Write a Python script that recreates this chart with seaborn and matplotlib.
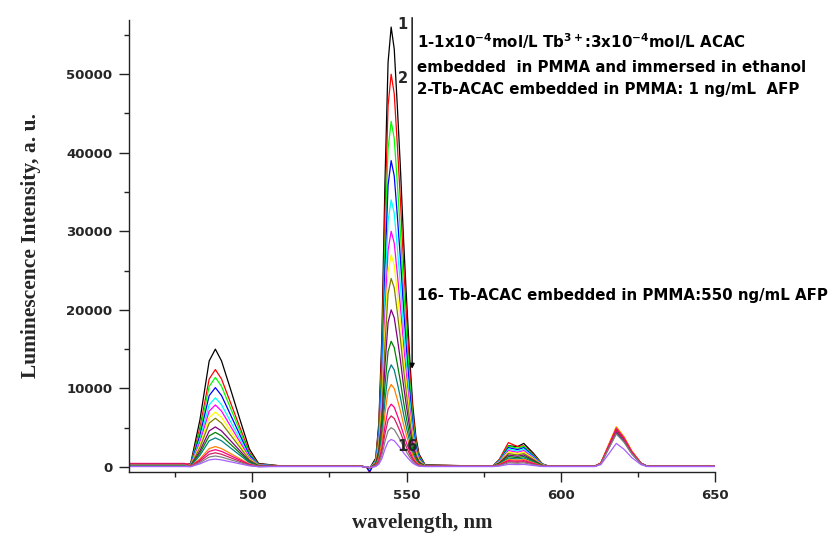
import matplotlib
matplotlib.use("Agg")
import matplotlib.pyplot as plt
import seaborn as sns
import pandas as pd
from matplotlib.ticker import MultipleLocator

# ---------------- data ----------------
wavelength = [460, 478, 480, 483, 486, 488, 490, 493, 496, 499, 502, 510, 535,
              537, 538, 540, 541, 542, 543, 544, 545, 546, 547, 548, 549, 550, 551,
              552, 553, 554, 556, 575,
              578, 580, 583, 586, 588, 591, 594, 596, 609,
              611, 613, 615.5, 618, 620.5, 623, 626, 628, 640, 650]

c01 = [200, 200, 450, 6000, 13500, 15000, 13500, 9800, 6000, 2300, 450, 100, 100,
       0, -200, 1120, 5600, 16800, 36400, 51520, 56000, 53200, 45920, 38080, 29120, 21280, 14000,
       7840, 3920, 1680, 280, 100,
       150, 900, 2700, 2600, 3000, 1800, 400, 120, 100,
       100, 440, 2420, 4400, 3300, 1760, 440, 100, 100, 150]
c02 = [400, 400, 370, 5000, 11200, 12400, 11200, 8100, 5000, 1900, 370, 120, 100,
       0, -700, 1000, 5000, 15000, 32500, 46000, 50000, 47500, 41000, 34000, 26000, 19000, 12500,
       7000, 3500, 1500, 250, 100,
       160, 930, 3100, 2600, 2700, 1650, 370, 110, 100,
       100, 500, 2750, 5000, 3750, 2000, 500, 100, 100, 120]
c03 = [250, 250, 340, 4560, 10260, 11400, 10260, 7410, 4560, 1710, 340, 100, 100,
       0, -500, 880, 4400, 13200, 28600, 40480, 44000, 41800, 36080, 29920, 22880, 16720, 11000,
       6160, 3080, 1320, 220, 100,
       140, 840, 2660, 2380, 2660, 1540, 340, 100, 100,
       100, 480, 2640, 4800, 3600, 1920, 480, 100, 100, 100]
c04 = [100, 100, 300, 4040, 9090, 10100, 9090, 6570, 4040, 1520, 300, 100, 100,
       0, -600, 780, 3900, 11700, 25350, 35880, 39000, 37050, 31980, 26520, 20280, 14820, 9750,
       5460, 2730, 1170, 200, 100,
       130, 780, 2470, 2210, 2470, 1430, 310, 100, 100,
       100, 460, 2530, 4600, 3450, 1840, 460, 100, 100, 120]
c05 = [300, 300, 260, 3520, 7920, 8800, 7920, 5720, 3520, 1320, 260, 100, 100,
       0, -100, 680, 3400, 10200, 22100, 31280, 34000, 32300, 27880, 23120, 17680, 12920, 8500,
       4760, 2380, 1020, 170, 100,
       120, 720, 2280, 2040, 2280, 1320, 290, 100, 100,
       100, 470, 2590, 4700, 3530, 1880, 470, 100, 100, 100]
c06 = [350, 350, 240, 3160, 7110, 7900, 7110, 5140, 3160, 1190, 240, 100, 100,
       0, -100, 600, 3000, 9000, 19500, 27600, 30000, 28500, 24600, 20400, 15600, 11400, 7500,
       4200, 2100, 900, 150, 100,
       110, 660, 2090, 1870, 2090, 1210, 260, 100, 100,
       100, 490, 2700, 4900, 3680, 1960, 490, 100, 100, 100]
c07 = [200, 200, 210, 2800, 6300, 7000, 6300, 4550, 2800, 1050, 210, 100, 100,
       0, -100, 540, 2700, 8100, 17550, 24840, 27000, 25650, 22140, 18360, 14040, 10260, 6750,
       3780, 1890, 810, 135, 100,
       100, 600, 1900, 1700, 1900, 1100, 240, 100, 100,
       100, 510, 2810, 5100, 3830, 2040, 510, 100, 100, 100]
c08 = [250, 250, 190, 2480, 5580, 6200, 5580, 4030, 2480, 930, 190, 100, 100,
       0, -100, 480, 2400, 7200, 15600, 22080, 24000, 22800, 19680, 16320, 12480, 9120, 6000,
       3360, 1680, 720, 120, 100,
       100, 540, 1710, 1530, 1710, 990, 220, 100, 100,
       100, 480, 2640, 4800, 3600, 1920, 480, 100, 100, 100]
c09 = [150, 150, 150, 2040, 4590, 5100, 4590, 3320, 2040, 770, 150, 100, 100,
       0, -100, 400, 2000, 6000, 13000, 18400, 20000, 19000, 16400, 13600, 10400, 7600, 5000,
       2800, 1400, 600, 100, 100,
       100, 480, 1520, 1360, 1520, 880, 190, 100, 100,
       100, 450, 2480, 4500, 3380, 1800, 450, 100, 100, 100]
c10 = [200, 200, 130, 1760, 3960, 4400, 3960, 2860, 1760, 660, 130, 100, 100,
       0, -100, 320, 1600, 4800, 10400, 14720, 16000, 15200, 13120, 10880, 8320, 6080, 4000,
       2240, 1120, 480, 100, 100,
       100, 420, 1330, 1190, 1330, 770, 170, 100, 100,
       100, 470, 2590, 4700, 3530, 1880, 470, 100, 100, 100]
c11 = [300, 300, 110, 1480, 3330, 3700, 3330, 2400, 1480, 560, 110, 100, 100,
       0, -100, 260, 1300, 3900, 8450, 11960, 13000, 12350, 10660, 8840, 6760, 4940, 3250,
       1820, 910, 390, 100, 100,
       100, 360, 1140, 1020, 1140, 660, 140, 100, 100,
       100, 430, 2370, 4300, 3230, 1720, 430, 100, 100, 100]
c12 = [350, 350, 80, 1040, 2340, 2600, 2340, 1690, 1040, 390, 80, 100, 100,
       0, -100, 210, 1050, 3150, 6830, 9660, 10500, 9980, 8610, 7140, 5460, 3990, 2630,
       1470, 740, 320, 100, 100,
       100, 300, 950, 850, 950, 550, 120, 100, 100,
       100, 510, 2810, 5100, 3830, 2040, 510, 100, 100, 100]
c13 = [450, 450, 70, 880, 1980, 2200, 1980, 1430, 880, 330, 70, 100, 100,
       0, -100, 160, 800, 2400, 5200, 7360, 8000, 7600, 6560, 5440, 4160, 3040, 2000,
       1120, 560, 240, 100, 100,
       100, 260, 810, 720, 810, 470, 100, 100, 100,
       100, 490, 2700, 4900, 3680, 1960, 490, 100, 100, 100]
c14 = [400, 400, 60, 720, 1620, 1800, 1620, 1170, 720, 270, 60, 100, 100,
       0, -100, 130, 650, 1950, 4230, 5980, 6500, 6180, 5330, 4420, 3380, 2470, 1630,
       910, 460, 200, 100, 100,
       100, 210, 670, 600, 670, 390, 100, 100, 100,
       100, 460, 2530, 4600, 3450, 1840, 460, 100, 100, 100]
c15 = [250, 250, 50, 560, 1260, 1400, 1260, 910, 560, 210, 50, 100, 100,
       0, -100, 100, 500, 1500, 3250, 4600, 5000, 4750, 4100, 3400, 2600, 1900, 1250,
       700, 350, 150, 100, 100,
       100, 170, 520, 470, 520, 300, 100, 100, 100,
       100, 420, 2310, 4200, 3150, 1680, 420, 100, 100, 100]
c16 = [50, 50, 30, 400, 900, 1000, 900, 650, 400, 150, 30, 50, 50,
       0, -100, 70, 350, 1050, 2280, 3220, 3500, 3330, 2870, 2380, 1820, 1330, 880,
       490, 250, 100, 50, 50,
       50, 110, 330, 300, 330, 190, 60, 50, 50,
       50, 300, 1650, 3000, 2250, 1200, 300, 50, 50, 50]

curve_ids = list(range(1, 17))
curve_colors = ['#000000', '#FF0000', '#00FF00', '#0000FF', '#00FFFF', '#FF00FF',
                '#FFFF00', '#808000', '#800080', '#008000', '#008080', '#FF8000',
                '#FF0080', '#D02060', '#808080', '#A860FF']

x_ticks = [500, 550, 600, 650]
y_ticks = [0, 10000, 20000, 30000, 40000, 50000]

# ---------------- build long table ----------------
series = [c01, c02, c03, c04, c05, c06, c07, c08, c09, c10, c11, c12, c13, c14, c15, c16]
frames = []
for cid, vals in zip(curve_ids, series):
    frames.append(pd.DataFrame({'wavelength': wavelength, 'intensity': vals, 'curve': cid}))
df = pd.concat(frames, ignore_index=True)

# ---------------- plot ----------------
sns.set_theme(style='ticks')
plt.rcParams['font.family'] = ['DejaVu Sans']

fig = plt.figure(figsize=(8.29, 5.39), dpi=100)
ax = fig.add_axes([129 / 829, 1 - 472 / 539, (715 - 129) / 829, (472 - 20) / 539])

sns.lineplot(data=df, x='wavelength', y='intensity', hue='curve',
             palette=dict(zip(curve_ids, curve_colors)), hue_order=curve_ids,
             estimator=None, sort=False, legend=False, linewidth=0.9, ax=ax)

ax.set_xlim(460, 650)
ax.set_ylim(-640, 56900)
ax.set_xticks(x_ticks)
ax.set_yticks(y_ticks)
ax.xaxis.set_minor_locator(MultipleLocator(25))
ax.yaxis.set_minor_locator(MultipleLocator(5000))
ax.tick_params(axis='both', which='major', direction='out', length=7, width=1,
               color='#222222', pad=5, labelsize=9.5)
ax.tick_params(axis='both', which='minor', direction='out', length=3.5, width=1,
               color='#222222')
for lab in ax.get_xticklabels() + ax.get_yticklabels():
    lab.set_fontweight('bold')

for side in ['top', 'right']:
    ax.spines[side].set_visible(False)
for side in ['left', 'bottom']:
    ax.spines[side].set_color('#222222')
    ax.spines[side].set_linewidth(1.0)

ax.set_xlabel('wavelength, nm', fontsize=15, fontweight='bold',
              family=['Liberation Serif'], labelpad=8)
ax.set_ylabel('Luminescence Intensity, a. u.', fontsize=15.5, fontweight='bold',
              family=['Liberation Serif'], labelpad=18)

# arrow and annotations
ax.annotate('', xy=(551.8, 12500), xytext=(551.8, 57200),
            arrowprops=dict(arrowstyle='-|>', lw=1.0, color='black',
                            mutation_scale=7, shrinkA=0, shrinkB=0),
            annotation_clip=False)
tk = dict(fontsize=10.8, fontweight='bold', color='black', ha='left', va='baseline')
ax.text(553.4, 53300, r'1-1x10$^{\mathbf{-4}}$mol/L Tb$^{\mathbf{3+}}$:3x10$^{\mathbf{-4}}$mol/L ACAC', **tk)
ax.text(553.4, 50300, 'embedded  in PMMA and immersed in ethanol', **tk)
ax.text(553.4, 47500, '2-Tb-ACAC embedded in PMMA: 1 ng/mL  AFP', **tk)
ax.text(553.4, 21300, '16- Tb-ACAC embedded in PMMA:550 ng/mL AFP', **tk)
ax.text(548.8, 56300, '1', fontsize=10.5, fontweight='bold', ha='center', va='center')
ax.text(548.8, 49500, '2', fontsize=10.5, fontweight='bold', ha='center', va='center')
ax.text(550.3, 2600, '16', fontsize=10.5, fontweight='bold', ha='center', va='center')

fig.savefig('out.png', dpi=100)
